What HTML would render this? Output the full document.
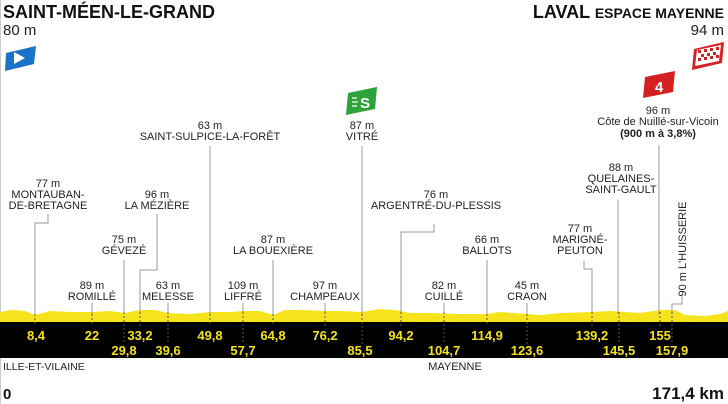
<!DOCTYPE html>
<html><head><meta charset="utf-8"><style>
body{margin:0;background:#fff;width:728px;height:404px;overflow:hidden}
svg{display:block}
text{font-family:"Liberation Sans",sans-serif}
.l{font-size:11px;fill:#222;text-anchor:middle}
.k{font-size:13px;font-weight:bold;fill:#f5e21a;text-anchor:middle}
.g{stroke:#999;stroke-width:1;fill:none}
.d{stroke:#555;stroke-width:1;stroke-dasharray:2,2}
</style></head><body>
<svg width="728" height="404" viewBox="0 0 728 404">
<line x1="0.5" y1="0" x2="0.5" y2="404" stroke="#ccc"/>
<text x="3" y="18" font-size="18" font-weight="bold" fill="#111">SAINT-MÉEN-LE-GRAND</text>
<text x="3" y="35" font-size="15" fill="#222">80 m</text>
<path d="M6,53 L36,46 L34,64 L5,71 Z" fill="#1a73c6"/>
<path d="M14,52 L25,58 L14,64 Z" fill="#fff"/>
<text x="724" y="18" font-size="18" font-weight="bold" fill="#111" text-anchor="end">LAVAL <tspan font-size="14">ESPACE MAYENNE</tspan></text>
<text x="724" y="35" font-size="15" fill="#222" text-anchor="end">94 m</text>
<g><path d="M694,49 L724,42 L722,63 L692,70 Z" fill="#d42020"/>
<path d="M697,50 L721,45 L719,61 L695,66 Z" fill="#fff"/>
<g fill="#d42020"><rect x="698" y="50" width="3" height="3"/><rect x="704" y="49" width="3" height="3"/><rect x="710" y="48" width="3" height="3"/><rect x="716" y="47" width="3" height="3"/><rect x="701" y="54" width="3" height="3"/><rect x="707" y="53" width="3" height="3"/><rect x="713" y="52" width="3" height="3"/><rect x="698" y="58" width="3" height="3"/><rect x="704" y="57" width="3" height="3"/><rect x="710" y="56" width="3" height="3"/><rect x="716" y="55" width="3" height="3"/></g></g>
<path d="M645,77 L675,71 L673,92 L643,98 Z" fill="#d42020"/>
<text x="659" y="92" font-size="15" font-weight="bold" fill="#fff" text-anchor="middle">4</text>
<path d="M348,93 L377,87 L375,109 L346,115 Z" fill="#2ea33a"/>
<text x="365" y="108" font-size="15" font-weight="bold" fill="#fff" text-anchor="middle">S</text>
<path d="M352,98h5M352,102h6M352,106h5" stroke="#fff" stroke-width="1.3"/>
<path d="M0,322 L0,312 L12,310 L25,311 L35,315 L50,311 L70,312 L92,312 L110,311 L124,313 L140,310 L155,310 L168,313 L190,314 L210,312 L230,312 L243,311 L260,311 L273,315 L285,310 L300,310 L325,311 L340,311 L362,312 L380,309 L395,310 L410,313 L430,313 L460,314 L487,314 L500,312 L527,314 L540,315 L560,313 L592,312 L610,311 L640,313 L660,310 L675,310 L685,315 L705,316 L720,314 L728,311 L728,322 Z" fill="#f7e31b"/>
<rect x="0" y="322" width="728" height="36" fill="#000"/>
<path class="g" d="M48,214 V223 H35 V314"/>
<path class="g" d="M92,303 V314"/>
<path class="g" d="M124,260 V314"/>
<path class="g" d="M157,214 V270 H140 V314"/>
<path class="g" d="M168,303 V312"/>
<path class="g" d="M210,146 V314"/>
<path class="g" d="M243,303 V312"/>
<path class="g" d="M273,260 V314"/>
<path class="g" d="M325,303 V312"/>
<path class="g" d="M362,146 V314"/>
<path class="g" d="M434,224 V232 H401 V314"/>
<path class="g" d="M444,303 V312"/>
<path class="g" d="M487,260 V314"/>
<path class="g" d="M527,303 V314"/>
<path class="g" d="M584,261 V269 H592 V314"/>
<path class="g" d="M618,200 V314"/>
<path class="g" d="M659,145 V314"/>
<path class="g" d="M682,296 V304 H672 V314"/>
<g class="d"><line x1="35" y1="314" x2="35" y2="326"/><line x1="92" y1="314" x2="92" y2="326"/><line x1="124" y1="312" x2="124" y2="344"/><line x1="140" y1="312" x2="140" y2="326"/><line x1="168" y1="312" x2="168" y2="344"/><line x1="210" y1="314" x2="210" y2="326"/><line x1="243" y1="312" x2="243" y2="344"/><line x1="273" y1="314" x2="273" y2="326"/><line x1="325" y1="312" x2="325" y2="326"/><line x1="362" y1="314" x2="362" y2="344"/><line x1="401" y1="312" x2="401" y2="326"/><line x1="444" y1="312" x2="444" y2="344"/><line x1="487" y1="314" x2="487" y2="326"/><line x1="527" y1="314" x2="527" y2="344"/><line x1="592" y1="312" x2="592" y2="326"/><line x1="619" y1="312" x2="619" y2="344"/><line x1="660" y1="312" x2="660" y2="326"/><line x1="672" y1="312" x2="672" y2="344"/></g>
<g class="k"><text x="36" y="340">8,4</text><text x="92" y="340">22</text><text x="140" y="340">33,2</text><text x="210" y="340">49,8</text><text x="273" y="340">64,8</text><text x="325" y="340">76,2</text><text x="401" y="340">94,2</text><text x="487" y="340">114,9</text><text x="592" y="340">139,2</text><text x="660" y="340">155</text>
<text x="124" y="355">29,8</text><text x="168" y="355">39,6</text><text x="243" y="355">57,7</text><text x="360" y="355">85,5</text><text x="444" y="355">104,7</text><text x="527" y="355">123,6</text><text x="619" y="355">145,5</text><text x="672" y="355">157,9</text></g>
<text x="3" y="370" font-size="10.5" fill="#222">ILLE-ET-VILAINE</text>
<text x="455" y="370" class="l">MAYENNE</text>
<text x="3" y="399" font-size="15" font-weight="bold" fill="#111">0</text>
<text x="724" y="399" font-size="17" font-weight="bold" fill="#111" text-anchor="end">171,4 km</text>
<g class="l">
<text x="48" y="187">77 m</text><text x="48" y="198">MONTAUBAN-</text><text x="48" y="209">DE-BRETAGNE</text>
<text x="92" y="289">89 m</text><text x="92" y="300">ROMILLÉ</text>
<text x="124" y="243">75 m</text><text x="124" y="254">GÉVEZÉ</text>
<text x="157" y="198">96 m</text><text x="157" y="209">LA MÉZIÈRE</text>
<text x="168" y="289">63 m</text><text x="168" y="300">MELESSE</text>
<text x="210" y="129">63 m</text><text x="210" y="140">SAINT-SULPICE-LA-FORÊT</text>
<text x="243" y="289">109 m</text><text x="243" y="300">LIFFRÉ</text>
<text x="273" y="243">87 m</text><text x="273" y="254">LA BOUEXIÈRE</text>
<text x="325" y="289">97 m</text><text x="325" y="300">CHAMPEAUX</text>
<text x="362" y="129">87 m</text><text x="362" y="140">VITRÉ</text>
<text x="436" y="198">76 m</text><text x="436" y="209">ARGENTRÉ-DU-PLESSIS</text>
<text x="444" y="289">82 m</text><text x="444" y="300">CUILLÉ</text>
<text x="487" y="243">66 m</text><text x="487" y="254">BALLOTS</text>
<text x="527" y="289">45 m</text><text x="527" y="300">CRAON</text>
<text x="580" y="232">77 m</text><text x="580" y="243">MARIGNÉ-</text><text x="580" y="254">PEUTON</text>
<text x="621" y="171">88 m</text><text x="621" y="182">QUELAINES-</text><text x="621" y="193">SAINT-GAULT</text>
<text x="658" y="114">96 m</text><text x="658" y="125">Côte de Nuillé-sur-Vicoin</text><text x="658" y="137" font-weight="bold">(900 m à 3,8%)</text>
<text transform="translate(686,249) rotate(-90)">90 m L'HUISSERIE</text>
</g>
</svg>
</body></html>
